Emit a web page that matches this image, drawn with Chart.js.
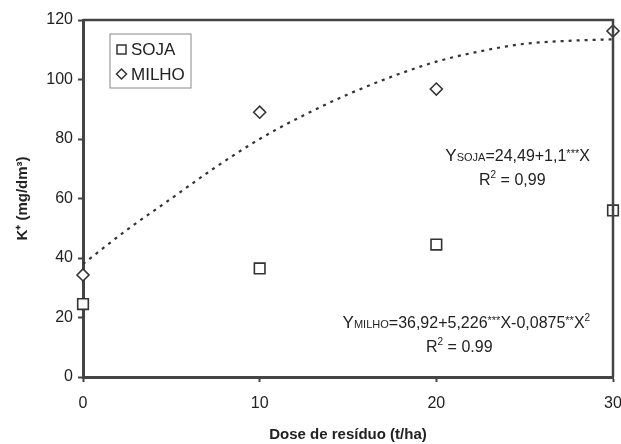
<!DOCTYPE html>
<html>
<head>
<meta charset="utf-8">
<script src="https://cdn.jsdelivr.net/npm/chart.js@4"></script>
<style>
  html, body { margin: 0; padding: 0; background: #fff; }
  #wrap { width: 621px; height: 444px; }
</style>
</head>
<body>
<div id="wrap"><canvas id="grafico" width="621" height="444"></canvas></div>
<script>
// Valores
const doses = [0, 10, 20, 30];
const soja = [24.5, 36.5, 44.5, 56];
const milho = [34.3, 89, 96.8, 116.3];

// curva ajustada (pontilhada)
const curvaX = [0, 2.5, 5, 7.5, 10, 12.5, 15, 17.5, 20, 22.5, 25, 27.5, 30];
const curvaY = [38, 49.5, 60, 70.5, 80, 88, 95, 101, 106, 109.5, 112, 113, 113.5];

const ticksX = [0, 10, 20, 30];
const ticksY = [0, 20, 40, 60, 80, 100, 120];

const corTexto = "#222";
const fonte = "'Liberation Sans', Arial, sans-serif";

function pontos(xs, ys) {
    return xs.map((x, i) => ({x: x, y: ys[i]}));
}

// desenha texto com partes de tamanhos diferentes, centrado em cx
function textoMisto(ctx, partes, cx, base) {
    let total = 0;
    partes.forEach(p => {
        ctx.font = p.size + "px " + fonte;
        p.w = ctx.measureText(p.t).width;
        total += p.w;
    });
    let x = cx - total / 2;
    ctx.textAlign = "left";
    ctx.textBaseline = "alphabetic";
    partes.forEach(p => {
        ctx.font = p.size + "px " + fonte;
        ctx.fillText(p.t, x, base - (p.dy || 0));
        x += p.w;
    });
}

const extras = {
    id: "extras",
    afterDraw(chart) {
        const ctx = chart.ctx;
        const a = chart.chartArea;
        const sx = chart.scales.x, sy = chart.scales.y;
        ctx.save();

        // moldura superior e direita
        ctx.strokeStyle = "#444";
        ctx.lineWidth = 2.5;
        ctx.beginPath();
        ctx.moveTo(a.left, a.top);
        ctx.lineTo(a.right, a.top);
        ctx.lineTo(a.right, a.bottom);
        ctx.stroke();

        // legenda
        const lx = a.left + 27, ly = a.top + 14;
        ctx.strokeStyle = "#888";
        ctx.lineWidth = 1;
        ctx.strokeRect(lx, ly, 81, 54);
        ctx.fillStyle = corTexto;
        ctx.font = "17px " + fonte;
        ctx.textBaseline = "middle";
        ctx.textAlign = "left";
        ctx.strokeStyle = "#333";
        ctx.lineWidth = 1.5;
        ctx.strokeRect(lx + 7, ly + 11, 9, 9);
        ctx.fillText("SOJA", lx + 21, ly + 16);
        ctx.beginPath();
        const dx = lx + 11.5, dy = ly + 40;
        ctx.moveTo(dx, dy - 5); ctx.lineTo(dx + 5, dy); ctx.lineTo(dx, dy + 5); ctx.lineTo(dx - 5, dy);
        ctx.closePath();
        ctx.stroke();
        ctx.fillText("MILHO", lx + 21, ly + 41);

        // equações
        ctx.fillStyle = corTexto;
        let cx = sx.getPixelForValue(24.6), b = sy.getPixelForValue(72.5);
        textoMisto(ctx, [
            {t: "Y", size: 17}, {t: "SOJA", size: 11}, {t: "=24,49+1,1", size: 16},
            {t: "***", size: 11, dy: 4}, {t: "X", size: 16}
        ], cx, b);
        cx = sx.getPixelForValue(24.3); b = sy.getPixelForValue(64.5);
        textoMisto(ctx, [
            {t: "R", size: 16}, {t: "2", size: 10, dy: 7}, {t: " = 0,99", size: 16}
        ], cx, b);

        cx = sx.getPixelForValue(21.7); b = sy.getPixelForValue(16.5);
        textoMisto(ctx, [
            {t: "Y", size: 17}, {t: "MILHO", size: 11}, {t: "=36,92+5,226", size: 16},
            {t: "***", size: 11, dy: 4}, {t: "X-0,0875", size: 16},
            {t: "**", size: 11, dy: 4}, {t: "X", size: 16}, {t: "2", size: 10, dy: 7}
        ], cx, b);
        cx = sx.getPixelForValue(21.3); b = sy.getPixelForValue(8.5);
        textoMisto(ctx, [
            {t: "R", size: 16}, {t: "2", size: 10, dy: 7}, {t: " = 0.99", size: 16}
        ], cx, b);

        ctx.restore();
    }
};

new Chart(document.getElementById("grafico"), {
    type: "scatter",
    data: {
        datasets: [
            {
                label: "Ajuste",
                data: pontos(curvaX, curvaY),
                showLine: true,
                pointRadius: 0,
                borderColor: "#333",
                borderWidth: 2.2,
                borderDash: [3, 5],
                cubicInterpolationMode: "monotone",
                fill: false
            },
            {
                label: "SOJA",
                data: pontos(doses, soja),
                pointStyle: "rect",
                pointRadius: 7.5,
                pointBorderWidth: 1.6,
                pointBorderColor: "#333",
                pointBackgroundColor: "#fff"
            },
            {
                label: "MILHO",
                data: pontos(doses, milho),
                pointStyle: "rectRot",
                pointRadius: 6,
                pointBorderWidth: 1.6,
                pointBorderColor: "#333",
                pointBackgroundColor: "#fff"
            }
        ]
    },
    options: {
        responsive: false,
        animation: false,
        clip: false,
        layout: {autoPadding: false, padding: {top: 20, right: 8, left: 0, bottom: 0}},
        plugins: {legend: {display: false}, tooltip: {enabled: false}},
        scales: {
            x: {
                type: "linear",
                min: 0, max: 30,
                afterBuildTicks: s => { s.ticks = ticksX.map(v => ({value: v})); },
                afterFit: s => { s.height = 67; s.paddingLeft = 0; s.paddingRight = 0; },
                border: {display: true, color: "#444", width: 3},
                grid: {drawOnChartArea: false, drawTicks: true, tickLength: 5, tickColor: "#444", tickWidth: 2},
                ticks: {color: corTexto, font: {size: 16, family: fonte}, padding: 12},
                title: {display: true, text: "Dose de resíduo (t/ha)", color: corTexto,
                    font: {size: 15, weight: "bold", family: fonte}, padding: {top: 4, bottom: 0}}
            },
            y: {
                min: 0, max: 120,
                afterBuildTicks: s => { s.ticks = ticksY.map(v => ({value: v})); },
                afterFit: s => { s.width = 83; s.paddingTop = 0; s.paddingBottom = 0; },
                border: {display: true, color: "#444", width: 3},
                grid: {drawOnChartArea: false, drawTicks: true, tickLength: 5, tickColor: "#444", tickWidth: 2},
                ticks: {color: corTexto, font: {size: 16, family: fonte}, padding: 5},
                title: {display: true, text: "K⁺ (mg/dm³)", color: corTexto,
                    font: {size: 15, weight: "bold", family: fonte}, padding: {top: 14, bottom: 0}}
            }
        }
    },
    plugins: [extras]
});
</script>
</body>
</html>
